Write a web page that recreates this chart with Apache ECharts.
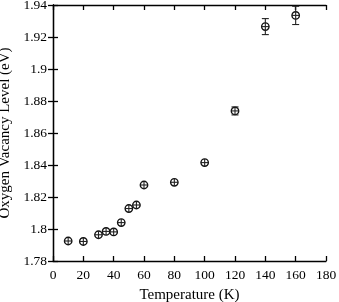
<!DOCTYPE html>
<html><head><meta charset="utf-8">
<script src="https://cdn.jsdelivr.net/npm/echarts@6/dist/echarts.min.js"></script>
<style>html,body{margin:0;padding:0;background:#fff}#c{width:339px;height:302px}</style>
</head><body><div id="c"></div>
<script>
const temperatures = [10, 20, 30, 35, 40, 45, 50, 55, 60, 80, 100, 120, 140, 160];
const levels = [1.7925, 1.7922, 1.7964, 1.7985, 1.7982, 1.8040, 1.8128, 1.8150, 1.8275, 1.8292, 1.8415, 1.8738, 1.9265, 1.9335];
const errors = [0.0008, 0.0008, 0.0010, 0.0008, 0.0010, 0.0010, 0.0012, 0.0010, 0.0012, 0.0010, 0.0015, 0.0025, 0.0050, 0.0057];
const xLabel = 'Temperature (K)';
const yLabel = 'Oxygen Vacancy Level (eV)';

const data = temperatures.map((t, i) => [t, levels[i], levels[i] - errors[i], levels[i] + errors[i]]);
const font = 'Liberation Serif';
const chart = echarts.init(document.getElementById('c'), null, {renderer: 'canvas'});
const axisCommon = {
  axisLine: {lineStyle: {color: '#000', width: 1.3}},
  axisTick: {inside: true, length: 5, lineStyle: {color: '#000', width: 1.3}},
  splitLine: {show: false}
};
chart.setOption({
  animation: false,
  grid: {left: 53, right: 13, top: 5, bottom: 41, containLabel: false, outerBoundsMode: 'none'},
  xAxis: [
    Object.assign({type: 'value', min: 0, max: 180, interval: 20, name: xLabel, nameLocation: 'middle', nameGap: 27,
      nameTextStyle: {fontFamily: font, fontSize: 15, color: '#000'},
      axisLabel: {fontFamily: font, fontSize: 13.5, color: '#000', margin: 7}}, axisCommon),
    Object.assign({type: 'value', min: 0, max: 180, interval: 20, position: 'top', axisLabel: {show: false}}, axisCommon)
  ],
  yAxis: [
    Object.assign({type: 'value', min: 1.78, max: 1.94, interval: 0.02, name: yLabel, nameLocation: 'middle', nameGap: 37,
      nameTextStyle: {fontFamily: font, fontSize: 15, color: '#000'},
      axisLabel: {fontFamily: font, fontSize: 13.5, color: '#000', margin: 6, formatter: v => String(+v.toFixed(2))}}, axisCommon),
    Object.assign({type: 'value', min: 1.78, max: 1.94, interval: 0.02, position: 'right', axisLabel: {show: false}}, axisCommon)
  ],
  series: [{
    type: 'custom',
    xAxisIndex: 0, yAxisIndex: 0,
    data: data,
    renderItem: function (params, api) {
      const c = api.coord([api.value(0), api.value(1)]);
      const lo = api.coord([api.value(0), api.value(2)]);
      const hi = api.coord([api.value(0), api.value(3)]);
      const r = 3.7, cap = 3.5;
      const st = {stroke: '#222', lineWidth: 1.1, fill: null};
      const children = [
        {type: 'circle', shape: {cx: c[0], cy: c[1], r: r}, style: {fill: '#fff', stroke: '#111', lineWidth: 1.4}},
        {type: 'line', shape: {x1: c[0], y1: Math.min(hi[1], c[1] - r), x2: c[0], y2: Math.max(lo[1], c[1] + r)}, style: st},
        {type: 'line', shape: {x1: c[0] - r, y1: c[1], x2: c[0] + r, y2: c[1]}, style: st}
      ];
      if (c[1] - hi[1] > r) {
        children.push({type: 'line', shape: {x1: c[0] - cap, y1: hi[1], x2: c[0] + cap, y2: hi[1]}, style: st});
        children.push({type: 'line', shape: {x1: c[0] - cap, y1: lo[1], x2: c[0] + cap, y2: lo[1]}, style: st});
      }
      return {type: 'group', children: children};
    }
  }]
});
</script></body></html>
